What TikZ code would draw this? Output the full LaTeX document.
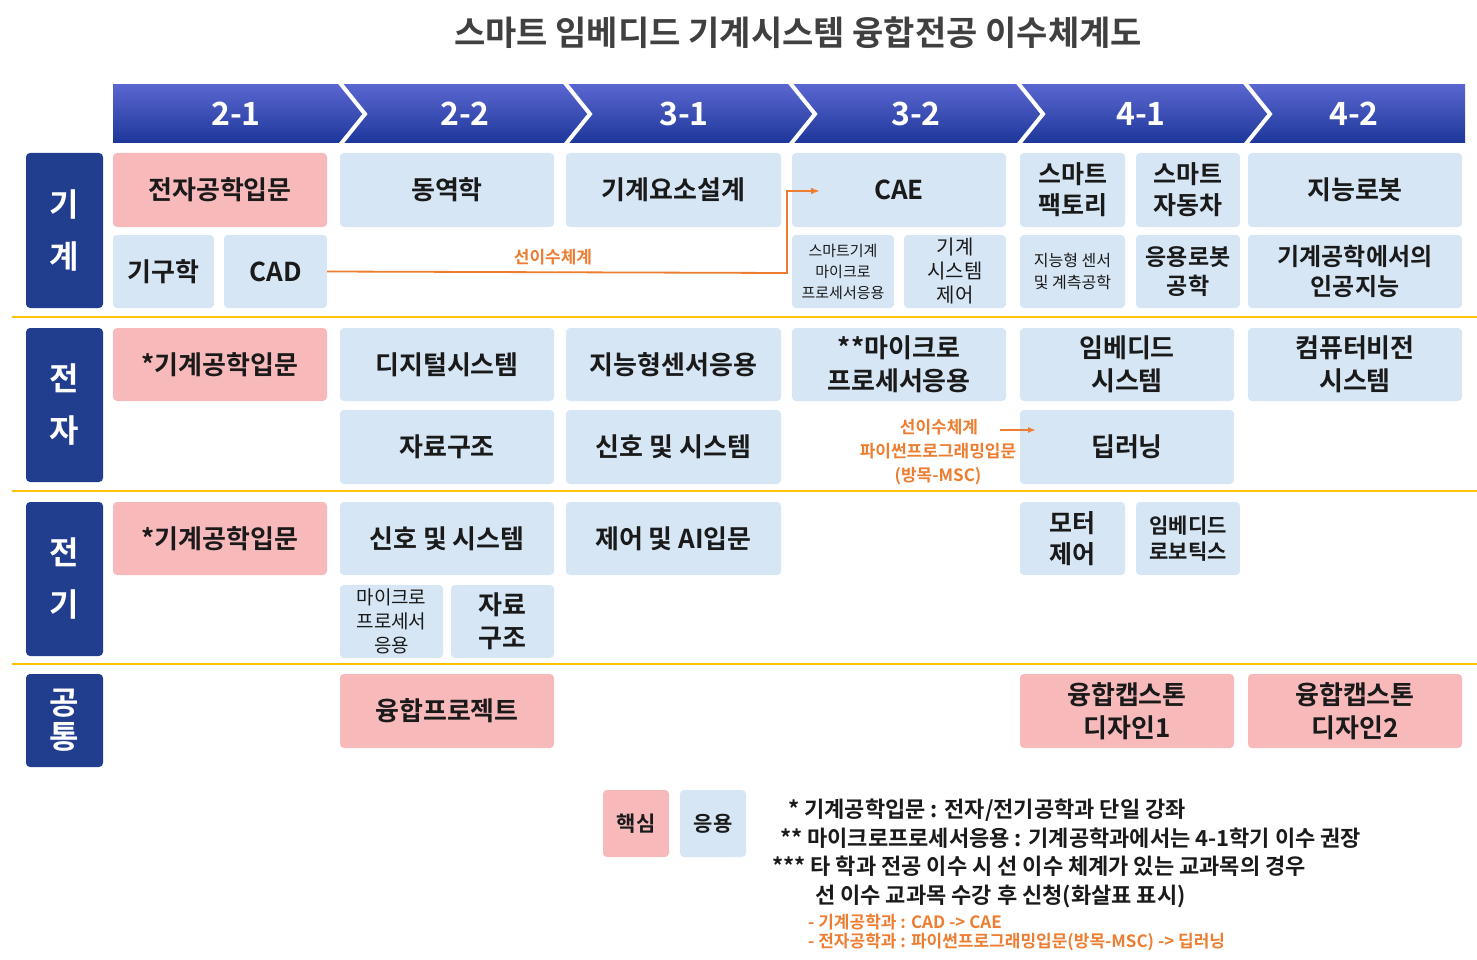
\documentclass[tikz,border=0pt]{standalone}
\usepackage{fontspec}
\setmainfont{Noto Sans CJK KR}[BoldFont={* Bold}]
\usetikzlibrary{arrows.meta}
\definecolor{lb}{HTML}{D6E6F5}
\definecolor{pk}{HTML}{F8B9BB}
\definecolor{navy}{HTML}{203D8E}
\definecolor{org}{HTML}{ED7D31}
\definecolor{yl}{HTML}{FFC000}
\definecolor{tx}{HTML}{1A1A1A}
\newcommand\bx[6]{\node[box,fill=#5,minimum width={#3-#1},minimum height={#4-#2}] (#6) at ({(#1+#3)/2},{(#2+#4)/2}) {};}
\newcommand\bt[3]{\node[txt,font=\fontsize{#3}{1.25\dimexpr#3pt\relax}\selectfont\bfseries] at (#1.center) {#2};}
\begin{document}
\begin{tikzpicture}[x=1pt,y=-1pt,
 box/.style={rounded corners=4pt,inner sep=0pt,draw=none},
 txt/.style={text=tx,align=center,inner sep=0pt},
 side/.style={fill=navy,rounded corners=4pt,inner sep=0pt},
 otx/.style={text=org,font=\fontsize{17}{20}\selectfont\bfseries,inner sep=0pt}]
\useasboundingbox (0,0) rectangle (1477,960);
\node[text=black!75,font=\fontsize{34}{40}\selectfont\bfseries] (title) at (798,33) {스마트 임베디드 기계시스템 융합전공 이수체계도};
% header
\shade[top color=blue!40!navy!70,bottom color=navy!90!blue] (113,85) rectangle (1465,143);
\foreach \b in {340,565,790,1018,1245}{\draw[white,line width=4pt] (\b,83)--(\b+25,114)--(\b,145);}
\foreach \x/\t in {236/2-1,465/2-2,684/3-1,916/3-2,1141/4-1,1354/4-2}{\node[white,font=\fontsize{32}{36}\selectfont\bfseries] at (\x,114){\t};}
% side labels
\foreach \a/\b/\t/\n in {153/308/{기\\[18pt]계}/s1,328/482/{전\\[18pt]자}/s2,502/656/{전\\[18pt]기}/s3,674/767/{공\\통}/s4}{
 \node[side,minimum width=77,minimum height={\b-\a}] (\n) at (64.5,{(\a+\b)/2}) {};
 \node[white,align=center,font=\fontsize{32}{34}\selectfont\bfseries] at (\n.center){\t};}
\foreach \y in {317,491,664}{\draw[yl,line width=2.5pt] (12,\y)--(1477,\y);}
% row 기계
\bx{113}{153}{327}{227}{pk}{a1}\bt{a1}{전자공학입문}{26}
\bx{340}{153}{554}{227}{lb}{a2}\bt{a2}{동역학}{26}
\bx{566}{153}{781}{227}{lb}{a3}\bt{a3}{기계요소설계}{26}
\bx{792}{153}{1006}{227}{lb}{a4}\bt{a4}{CAE}{26}
\bx{1020}{153}{1125}{227}{lb}{a5}\bt{a5}{스마트\\팩토리}{25}
\bx{1136}{153}{1240}{227}{lb}{a6}\bt{a6}{스마트\\자동차}{25}
\bx{1248}{153}{1462}{227}{lb}{a7}\bt{a7}{지능로봇}{26}
\bx{113}{235}{214}{308}{lb}{b1}\bt{b1}{기구학}{26}
\bx{224}{235}{327}{308}{lb}{b2}\bt{b2}{CAD}{26}
\bx{792}{235}{894}{308}{lb}{b3}\node[txt,font=\fontsize{15}{21}\selectfont] at (b3.center){스마트기계\\마이크로\\프로세서응용};
\bx{904}{235}{1006}{308}{lb}{b4}\node[txt,font=\fontsize{20}{24}\selectfont] at (b4.center){기계\\시스템\\제어};
\bx{1020}{235}{1125}{308}{lb}{b5}\node[txt,font=\fontsize{16}{22}\selectfont] at (b5.center){지능형 센서\\및 계측공학};
\bx{1136}{235}{1240}{308}{lb}{b6}\bt{b6}{응용로봇\\공학}{23}
\bx{1248}{235}{1462}{308}{lb}{b7}\bt{b7}{기계공학에서의\\인공지능}{24}
\coordinate (k1) at (787,273);\coordinate (k2) at (787,191);\coordinate (k3) at (820,191);
\draw[org,line width=1.8pt,-{Latex[length=9pt]}] (b2.east) -- (k1) -- (k2) -- (k3);
\node[otx] (l1) at (553,257){선이수체계};
% row 전자
\bx{113}{328}{327}{401}{pk}{c1}\bt{c1}{*기계공학입문}{26}
\bx{340}{328}{554}{401}{lb}{c2}\bt{c2}{디지털시스템}{26}
\bx{566}{328}{781}{401}{lb}{c3}\bt{c3}{지능형센서응용}{26}
\bx{792}{328}{1006}{401}{lb}{c4}\bt{c4}{**마이크로\\프로세서응용}{26}
\bx{1020}{328}{1234}{401}{lb}{c5}\bt{c5}{임베디드\\시스템}{26}
\bx{1248}{328}{1462}{401}{lb}{c6}\bt{c6}{컴퓨터비전\\시스템}{26}
\bx{340}{410}{554}{484}{lb}{d2}\bt{d2}{자료구조}{26}
\bx{566}{410}{781}{484}{lb}{d3}\bt{d3}{신호 및 시스템}{26}
\bx{1020}{410}{1234}{484}{lb}{d5}\bt{d5}{딥러닝}{26}
\node[otx] (l2) at (939,427){선이수체계};
\node[otx] (l3) at (938,451){파이썬프로그래밍입문};
\node[otx] (l4) at (938,476){(방목-MSC)};
\coordinate (m1) at (1000,430);\coordinate (m2) at (1036,430);
\draw[org,line width=1.8pt,-{Latex[length=8pt]}] (m1)--(m2);
% row 전기
\bx{113}{502}{327}{575}{pk}{e1}\bt{e1}{*기계공학입문}{26}
\bx{340}{502}{554}{575}{lb}{e2}\bt{e2}{신호 및 시스템}{26}
\bx{566}{502}{781}{575}{lb}{e3}\bt{e3}{제어 및 AI입문}{26}
\bx{1020}{502}{1125}{575}{lb}{e5}\bt{e5}{모터\\제어}{25}
\bx{1136}{502}{1240}{575}{lb}{e6}\bt{e6}{임베디드\\로보틱스}{21}
\bx{340}{585}{443}{658}{lb}{f1}\node[txt,font=\fontsize{19}{24}\selectfont] at (f1.center){마이크로\\프로세서\\응용};
\bx{451}{585}{554}{658}{lb}{f2}\bt{f2}{자료\\구조}{26}
% 공통
\bx{340}{674}{554}{748}{pk}{g2}\bt{g2}{융합프로젝트}{26}
\bx{1020}{674}{1234}{748}{pk}{g5}\bt{g5}{융합캡스톤\\디자인1}{26}
\bx{1248}{674}{1462}{748}{pk}{g6}\bt{g6}{융합캡스톤\\디자인2}{26}
% legend
\bx{603}{790}{669}{857}{pk}{h1}\bt{h1}{핵심}{21}
\bx{680}{790}{746}{857}{lb}{h2}\bt{h2}{응용}{21}
\begin{scope}[every node/.style={anchor=west,inner sep=0pt,text=tx,font=\fontsize{22}{26}\selectfont\bfseries}]
\node (n1) at (788,810){* 기계공학입문 : 전자/전기공학과 단일 강좌};
\node (n2) at (780,838){** 마이크로프로세서응용 : 기계공학과에서는 4-1학기 이수 권장};
\node (n3) at (772,866){*** 타 학과 전공 이수 시 선 이수 체계가 있는 교과목의 경우};
\node (n4) at (815,896){선 이수 교과목 수강 후 신청(화살표 표시)};
\node[text=org,font=\fontsize{17}{20}\selectfont\bfseries] (n5) at (808,922){- 기계공학과 : CAD -> CAE};
\node[text=org,font=\fontsize{17}{20}\selectfont\bfseries] (n6) at (808,942){- 전자공학과 : 파이썬프로그래밍입문(방목-MSC) -> 딥러닝};
\end{scope}
\end{tikzpicture}
\end{document}
